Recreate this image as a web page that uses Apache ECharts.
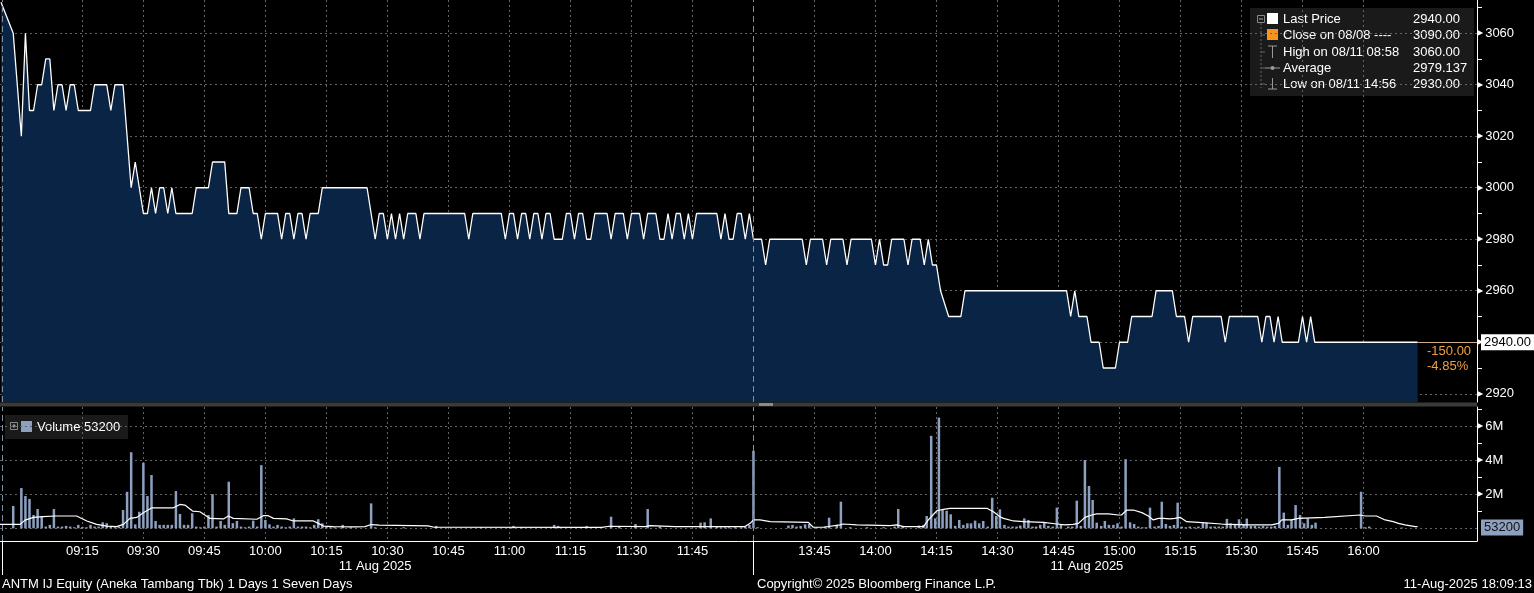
<!DOCTYPE html>
<html><head><meta charset="utf-8">
<script src="https://cdn.jsdelivr.net/npm/echarts@6/dist/echarts.min.js"></script>
<style>html,body{margin:0;padding:0;background:#000;overflow:hidden}#c{width:1534px;height:593px}</style>
</head><body><div id="c"></div>
<script>
// Time is stored as trading minutes since 09:00 with the lunch break removed (12:00 and 13:30 are both 180).
const timeLabels = ['09:15','09:30','09:45','10:00','10:15','10:30','10:45','11:00','11:15','11:30','11:45',
                    '13:45','14:00','14:15','14:30','14:45','15:00','15:15','15:30','15:45','16:00'];
const dateLabels = ['11 Aug 2025', '11 Aug 2025'];
const dateLabelAt = [87, 262];
const sessionBreaks = [-4.8, 180];
const priceTicks = [2920, 2940, 2960, 2980, 3000, 3020, 3040, 3060];
const priceMinorTicks = [2930, 2950, 2970, 2990, 3010, 3030, 3050, 3070];
const volTicks = [0, 2, 4, 6];          // millions
const volLabelTicks = [2, 4, 6];
const volMinorTicks = [1, 3, 5, 7];

const pricePoints = [
 [-5,3072],[-2,3060],[0,3020],[1,3060],[2,3030],[3,3030],[4,3040],[5,3040],[6,3050],[7,3050],[8,3030],
 [9,3040],[10,3040],[11,3030],[12,3040],[13,3040],[14,3030],[17,3030],[18,3040],[21,3040],[22,3030],
 [23,3040],[25,3040],[27,3000],[28,3010],[29,3000],[30,2990],[31,2990],[32,3000],[33,2990],[34,3000],
 [35,3000],[36,2990],[37,3000],[38,2990],[42,2990],[43,3000],[46,3000],[47,3010],[50,3010],[51,2990],
 [53,2990],[54,3000],[56,3000],[57,2990],[58,2990],[59,2980],[60,2990],[63,2990],[64,2980],[65,2990],
 [66,2990],[67,2980],[68,2990],[69,2990],[70,2980],[71,2990],[73,2990],[74,3000],[85,3000],[87,2980],
 [88,2990],[89,2990],[90,2980],[91,2990],[92,2980],[93,2990],[94,2980],[95,2990],[97,2990],[98,2980],
 [99,2990],[109,2990],[110,2980],[111,2990],[118,2990],[119,2980],[120,2990],[121,2990],[122,2980],
 [123,2990],[124,2990],[125,2980],[126,2990],[127,2990],[128,2980],[129,2990],[130,2990],[131,2980],
 [133,2980],[134,2990],[135,2990],[136,2980],[137,2990],[138,2990],[139,2980],[140,2980],[141,2990],
 [144,2990],[145,2980],[146,2990],[148,2990],[149,2980],[150,2990],[152,2990],[153,2980],[154,2990],
 [156,2990],[157,2980],[158,2980],[159,2990],[160,2980],[161,2990],[162,2990],[163,2980],[164,2990],
 [165,2980],[166,2990],[171,2990],[172,2980],[173,2990],[174,2980],[175,2980],[176,2990],[177,2990],
 [178,2980],[179,2990],[180,2980],
 [182,2980],[183,2970],[184,2980],[192,2980],[193,2970],[194,2980],[197,2980],[198,2970],[199,2980],
 [202,2980],[203,2970],[204,2980],[209,2980],[210,2970],[211,2980],[212,2970],[213,2970],[214,2980],
 [217,2980],[218,2970],[219,2980],[221,2980],[222,2970],[223,2980],[224,2970],[225,2970],[226,2960],
 [228,2950],[231,2950],[232,2960],[257,2960],[258,2950],[259,2960],[260,2950],[262,2950],[263,2940],
 [265,2940],[266,2930],[269,2930],[270,2940],[272,2940],[273,2950],[278,2950],[279,2960],[283,2960],
 [284,2950],[286,2950],[287,2940],[288,2950],[295,2950],[296,2940],[297,2950],[304,2950],[305,2940],
 [306,2950],[307,2950],[308,2940],[309,2950],[310,2940],[314,2940],[315,2950],[316,2940],[317,2950],
 [318,2940],[343.3,2940]
];

// volume per minute, millions of shares
const volumeBars = [
 [-2,1.31],[0,2.36],[1,1.89],[2,1.72],[3,0.78],[4,1.13],[5,0.72],[6,0.1],[7,0.2],[8,1.13],[9,0.1],[10,0.1],
 [11,0.14],[12,0.1],[13,0.06],[14,0.2],[15,0.08],[16,0.06],[17,0.2],[18,0.1],[19,0.1],[20,0.35],[21,0.3],
 [22,0.1],[23,0.06],[24,0.1],[25,1.07],[26,2.14],[27,4.46],[28,0.23],[29,0.97],[30,3.84],[31,1.89],[32,3.12],
 [33,0.43],[34,0.2],[35,0.2],[36,0.2],[37,0.2],[38,2.18],[39,0.84],[40,0.2],[41,0.2],[42,0.88],[43,0.1],
 [44,0.06],[45,0.1],[46,0.78],[47,2.0],[48,0.1],[49,0.43],[50,0.2],[51,2.73],[52,0.3],[53,0.43],[54,0.1],
 [55,0.06],[56,0.1],[57,0.45],[58,0.1],[59,3.7],[60,0.49],[61,0.23],[62,0.1],[63,0.2],[64,0.1],[65,0.06],
 [66,0.1],[67,0.58],[68,0.1],[69,0.1],[70,0.1],[71,0.06],[72,0.2],[73,0.53],[74,0.29],[75,0.1],[76,0.06],
 [77,0.06],[79,0.2],[81,0.06],[86,1.46],[87,0.06],[94,0.06],[102,0.14],[113,0.06],[121,0.14],[123,0.06],
 [131,0.2],[132,0.14],[139,0.14],[145,0.68],[147,0.14],[151,0.25],[154,1.13],[157,0.1],[167,0.33],
 [168,0.35],[169.5,0.58],[171,0.1],[172,0.06],[173,0.06],[174,0.06],[175.5,0.06],[177,0.06],[178,0.1],
 [179,0.2],[180,4.54],[181,0.06],
 [188.6,0.16],[189.6,0.2],[190.6,0.1],[191.6,0.14],[192.7,0.23],[193.7,0.25],[195.6,0.06],[197.6,0.1],
 [198.6,0.62],[200.5,0.2],[201.5,1.56],[203.8,0.06],[207.9,0.06],[212,0.06],[214.7,0.1],[215.6,1.13],
 [216.7,0.14],[220.7,0.16],[221.8,0.2],[222.6,0.72],[223.7,5.42],[224.7,0.58],[225.6,6.49],[226.5,1.07],
 [227.5,1.03],[228.5,0.82],[229.6,0.14],[230.6,0.49],[231.6,0.2],[232.6,0.29],[233.5,0.29],[234.5,0.45],
 [235.5,0.29],[236.5,0.43],[237.6,0.1],[238.7,1.79],[239.7,0.72],[240.6,1.11],[241.7,0.2],[242.7,0.1],
 [243.7,0.1],[244.7,0.1],[245.6,0.16],[246.6,0.58],[247.6,0.49],[248.6,0.1],[249.5,0.1],[250.5,0.2],
 [251.5,0.33],[252.5,0.14],[253.6,0.1],[254.6,1.21],[255.6,0.2],[257.4,0.1],[258.4,0.1],[259.5,1.62],
 [260.5,0.14],[261.5,4.0],[262.5,2.48],[263.4,1.66],[264.4,0.33],[265.5,0.14],[266.4,0.43],[267.4,0.2],
 [268.5,0.2],[269.5,0.29],[270.5,0.1],[271.5,4.05],[272.6,0.35],[273.6,0.25],[274.6,0.1],[275.6,0.06],
 [276.5,0.06],[277.5,1.21],[278.6,0.1],[279.6,0.14],[280.4,1.56],[281.4,0.25],[282.4,0.14],[283.4,0.2],
 [284.3,1.5],[285.3,0.1],[286.3,0.06],[287.3,0.1],[288.4,0.06],[289.4,0.1],[290.5,0.33],[291.4,0.33],
 [292.4,0.1],[293.4,0.1],[294.4,0.1],[295.4,0.1],[296.4,0.55],[297.3,0.29],[298.4,0.23],[299.4,0.53],
 [300.5,0.23],[301.3,0.57],[302.3,0.14],[303.3,0.14],[304.3,0.1],[305.3,0.14],[306.3,0.1],[307.3,0.1],
 [308.2,0.14],[309.3,3.6],[310.4,0.92],[311.4,0.2],[312.3,0.49],[313.3,1.36],[314.4,0.78],[315.4,0.29],
 [316.3,0.58],[317.3,0.2],[318.2,0.33],[329.4,2.14],[330.4,0.06],[331.4,0.1],[339.4,0.04]
];

const volumeAvg = [
 [-5.25,0.23],[-0.3,0.23],[0.9,0.48],[3,0.64],[5.4,0.68],[8.3,0.72],[13.6,0.72],[16.1,0.43],[18.5,0.23],
 [21,0.13],[23.4,0.1],[25.1,0.23],[26.7,0.58],[28.4,0.64],[30,0.91],[32.1,1.2],[37.4,1.2],[39,1.4],
 [40.2,1.36],[42.1,1.01],[43.9,0.97],[46.4,0.58],[49.7,0.55],[50.9,0.72],[52.1,0.58],[57.9,0.53],
 [59.5,0.74],[60.7,0.74],[62,0.58],[65.2,0.55],[66.9,0.43],[71.8,0.43],[73,0.29],[74.3,0.13],[76.7,0.1],
 [82,0.08],[84.5,0.1],[86,0.22],[88,0.18],[100,0.14],[101.5,0.06],[142.7,0.05],[144.5,0.12],[153.4,0.1],
 [154.5,0.16],[160.7,0.1],[169.3,0.1],[177.9,0.1],[179.2,0.29],[180,0.49],[181.6,0.49],[184.1,0.39],
 [193.5,0.35],[194.7,0.06],[197.2,0.06],[201.3,0.2],[202.1,0.25],[205.4,0.2],[213.6,0.16],[215.2,0.2],
 [216.9,0.1],[221.8,0.1],[223,0.49],[225.1,1.03],[226.7,1.11],[228.3,1.17],[237.4,1.17],[239,0.97],
 [240.6,0.68],[241.5,0.58],[243.9,0.43],[246.4,0.39],[251.3,0.35],[254.6,0.25],[256.6,0.2],[258.6,0.23],
 [259.9,0.29],[261.5,0.64],[263.2,0.78],[264.4,0.84],[267.3,0.84],[269.7,0.78],[270.5,0.78],[271.8,1.07],
 [273.4,1.07],[275.5,0.92],[277.1,0.72],[278.3,0.49],[279.6,0.58],[280.8,0.58],[282.4,0.55],[283.6,0.58],
 [284.9,0.64],[286.5,0.39],[289.4,0.35],[295.1,0.25],[301.7,0.2],[307.4,0.2],[309.1,0.29],[309.9,0.49],
 [312.3,0.49],[314,0.58],[320.5,0.64],[329.1,0.78],[330.4,0.72],[333.2,0.72],[335.3,0.49],[337.3,0.39],
 [338.6,0.29],[340.2,0.2],[342.7,0.1],[343.3,0.1]
];

const lastTime = 343.3;
const lastPrice = 2940;
const lastVolume = 53200;
const legendNames = ['Last Price', 'Close on 08/08 ----', 'High on 08/11 08:58', 'Average', 'Low on 08/11 14:56'];
const legendValues = ['2940.00', '3090.00', '3060.00', '2979.137', '2930.00'];
const changeTexts = ['-150.00', '-4.85%'];
const volumeLegend = 'Volume 53200';
const footerTexts = ['ANTM IJ Equity (Aneka Tambang Tbk) 1 Days 1 Seven Days',
                     'Copyright\u00A9 2025 Bloomberg Finance L.P.', '11-Aug-2025 18:09:13'];

function toM(s){const p=s.split(':').map(Number);const t=p[0]*60+p[1];return t<=720?t-540:t-810+180;}
function fromM(m){const t=Math.round(m<=180?540+m:810+(m-180));const h=Math.floor(t/60),mm=t%60;return String(h).padStart(2,'0')+':'+String(mm).padStart(2,'0');}
const tickM = timeLabels.map(toM);

const X_MIN = -5.25, X_MAX = 357.9;
const FONT = '"Liberation Sans", Arial, sans-serif';
const gridDot = {color:'#646464', type:[2,3], width:1};
const breakStyle = {color:'#7f8fa8', type:[6,4], width:1};
const tri = {t:{fontSize:8, color:'#fff', padding:[0,2,0,0], fontFamily:'DejaVu Sans'}};

const chart = echarts.init(document.getElementById('c'), null, {renderer:'canvas'});

const legendRowsY = [19, 35, 52, 68, 84];
const graphics = [
  {type:'rect', shape:{x:0,y:402.5,width:1477,height:4}, style:{fill:'#3a3a3a'}},
  {type:'rect', shape:{x:759,y:403,width:14,height:3}, style:{fill:'#8a8a8a'}},
  {type:'rect', shape:{x:1250,y:8,width:224,height:88}, style:{fill:'#1a1a1a'}},
  {type:'rect', shape:{x:1257.5,y:15.5,width:7,height:7}, style:{fill:'none',stroke:'#888',lineWidth:1}},
  {type:'line', shape:{x1:1259,y1:19,x2:1263,y2:19}, style:{stroke:'#aaa',lineWidth:1}},
  {type:'line', shape:{x1:1261,y1:23,x2:1261,y2:88}, style:{stroke:'#666',lineWidth:1,lineDash:[2,2]}},
  {type:'rect', shape:{x:1267,y:13,width:11,height:11}, style:{fill:'#ffffff'}},
  {type:'rect', shape:{x:1267,y:29,width:11,height:11}, style:{fill:'#f7941d'}},
  {type:'line', shape:{x1:1268,y1:46,x2:1277,y2:46}, style:{stroke:'#999',lineWidth:1}},
  {type:'line', shape:{x1:1272.5,y1:46,x2:1272.5,y2:58}, style:{stroke:'#999',lineWidth:1}},
  {type:'line', shape:{x1:1265,y1:68,x2:1280,y2:68}, style:{stroke:'#999',lineWidth:1}},
  {type:'circle', shape:{cx:1272.5,cy:68,r:2}, style:{fill:'#999'}},
  {type:'line', shape:{x1:1272.5,y1:78,x2:1272.5,y2:89}, style:{stroke:'#999',lineWidth:1}},
  {type:'line', shape:{x1:1268,y1:89,x2:1277,y2:89}, style:{stroke:'#999',lineWidth:1}},
  {type:'rect', shape:{x:5,y:415,width:123,height:24}, style:{fill:'#1a1a1a'}},
  {type:'rect', shape:{x:10.5,y:422.5,width:7,height:7}, style:{fill:'none',stroke:'#888',lineWidth:1}},
  {type:'line', shape:{x1:12,y1:426,x2:16,y2:426}, style:{stroke:'#aaa',lineWidth:1}},
  {type:'line', shape:{x1:14,y1:424,x2:14,y2:428}, style:{stroke:'#aaa',lineWidth:1}},
  {type:'rect', shape:{x:21,y:421,width:11,height:11}, style:{fill:'#8da0c0'}},
  {type:'text', style:{text:volumeLegend, x:37, y:427, fill:'#fff', font:'13px '+FONT, textVerticalAlign:'middle'}},
  {type:'text', style:{text:changeTexts[0], x:1427, y:351.5, fill:'#f0a040', font:'13px '+FONT, textVerticalAlign:'middle'}},
  {type:'text', style:{text:changeTexts[1], x:1427, y:366.5, fill:'#f0a040', font:'13px '+FONT, textVerticalAlign:'middle'}},
  {type:'text', style:{text:footerTexts[0], x:2, y:584, fill:'#fff', font:'13px '+FONT, textVerticalAlign:'middle'}},
  {type:'text', style:{text:footerTexts[1], x:757, y:584, fill:'#fff', font:'13px '+FONT, textVerticalAlign:'middle'}},
  {type:'text', style:{text:footerTexts[2], x:1532, y:584, fill:'#fff', font:'13px '+FONT, textVerticalAlign:'middle', textAlign:'right'}}
];
legendNames.forEach((n,i)=>{
  graphics.push({type:'text', style:{text:n, x:1283, y:legendRowsY[i], fill:'#fff', font:'13px '+FONT, textVerticalAlign:'middle'}});
  graphics.push({type:'text', style:{text:legendValues[i], x:1413, y:legendRowsY[i], fill:'#fff', font:'13px '+FONT, textVerticalAlign:'middle'}});
  if (i>0) graphics.push({type:'line', shape:{x1:1261,y1:legendRowsY[i],x2:1265,y2:legendRowsY[i]}, style:{stroke:'#666',lineWidth:1}});
});

const option = {
  backgroundColor:'#000',
  animation:false,
  textStyle:{fontFamily:FONT},
  grid:[{left:0,top:0,width:1477,height:402},{left:0,top:407,width:1477,height:134}],
  xAxis:[
    {gridIndex:0,type:'value',min:X_MIN,max:X_MAX,axisLine:{show:false,onZero:false},axisLabel:{show:false},
     axisTick:{show:false,customValues:tickM},splitLine:{show:true,lineStyle:gridDot}},
    {gridIndex:1,type:'value',min:X_MIN,max:X_MAX,axisLine:{show:true,onZero:false,lineStyle:{color:'#fff',width:1}},
     axisTick:{show:false,customValues:tickM},
     axisLabel:{customValues:tickM,formatter:v=>fromM(v),color:'#fff',fontSize:13,fontFamily:FONT,margin:4},
     splitLine:{show:true,lineStyle:gridDot}},
    {gridIndex:1,type:'value',min:X_MIN,max:X_MAX,position:'bottom',axisLine:{show:false,onZero:false},
     axisTick:{show:true,customValues:sessionBreaks,length:34,lineStyle:{color:'#fff',width:1}},
     axisLabel:{customValues:dateLabelAt,formatter:(v)=>dateLabels[dateLabelAt.indexOf(v)]||dateLabels[0],color:'#fff',fontSize:13,fontFamily:FONT,margin:19},
     splitLine:{show:false}}
  ],
  yAxis:[
    {gridIndex:0,type:'value',position:'right',min:2916.8,max:3072.9,
     axisLine:{show:true,onZero:false,lineStyle:{color:'#fff',width:1}},
     axisTick:{show:false,customValues:priceTicks},
     axisLabel:{customValues:priceTicks,formatter:v=>'{t|\u25B6}'+v,margin:0,color:'#fff',fontSize:13,fontFamily:FONT,rich:tri},
     splitLine:{show:true,lineStyle:gridDot}},
    {gridIndex:0,type:'value',position:'right',offset:0,min:2916.8,max:3072.9,axisLine:{show:false,onZero:false},
     axisTick:{show:true,customValues:priceMinorTicks,length:5,lineStyle:{color:'#fff'}},
     axisLabel:{show:false},splitLine:{show:false}},
    {gridIndex:1,type:'value',position:'right',min:-0.745,max:7.11,
     axisLine:{show:true,onZero:false,lineStyle:{color:'#fff',width:1}},
     axisTick:{show:false,customValues:volTicks},
     axisLabel:{customValues:volLabelTicks,formatter:v=>'{t|\u25B6}'+v+'M',margin:0,color:'#fff',fontSize:13,fontFamily:FONT,rich:tri},
     splitLine:{show:true,lineStyle:gridDot}},
    {gridIndex:1,type:'value',position:'right',offset:0,min:-0.745,max:7.11,axisLine:{show:false,onZero:false},
     axisTick:{show:true,customValues:volMinorTicks,length:5,lineStyle:{color:'#fff'}},
     axisLabel:{show:false},splitLine:{show:false}}
  ],
  series:[
    {type:'line',xAxisIndex:0,yAxisIndex:0,data:pricePoints,symbol:'none',z:3,
     lineStyle:{color:'#ffffff',width:1.3},areaStyle:{color:'#0a2446',opacity:1,origin:'start'},
     markLine:{silent:true,symbol:['none','none'],animation:false,
       data:[
         {xAxis:sessionBreaks[0],lineStyle:breakStyle,label:{show:false}},
         {xAxis:sessionBreaks[1],lineStyle:breakStyle,label:{show:false}},
         [{coord:[lastTime,lastPrice],lineStyle:{color:'#d2ae86',width:1,type:'solid'},
           label:{show:true,position:'end',formatter:'2940.00',color:'#000',backgroundColor:'#fff',
                  padding:[2,3,1,3],fontSize:13,fontFamily:FONT,distance:4}},
          {coord:[X_MAX,lastPrice]}]
       ]}},
    {type:'bar',xAxisIndex:1,yAxisIndex:2,data:volumeBars,barWidth:2.5,z:2,
     itemStyle:{color:'#8da0c0'},
     markLine:{silent:true,symbol:['none','none'],animation:false,
       data:[
         {xAxis:sessionBreaks[0],lineStyle:breakStyle,label:{show:false}},
         {xAxis:sessionBreaks[1],lineStyle:breakStyle,label:{show:false}},
         [{coord:[lastTime,lastVolume/1e6],lineStyle:{color:'rgba(0,0,0,0)',width:1,type:'solid'},
           label:{show:true,position:'end',formatter:String(lastVolume),color:'#111',backgroundColor:'#8da0c0',
                  padding:[2,3,1,3],fontSize:13,fontFamily:FONT,distance:4}},
          {coord:[X_MAX,lastVolume/1e6]}]
       ]}},
    {type:'line',xAxisIndex:1,yAxisIndex:2,data:volumeAvg,symbol:'none',z:4,
     lineStyle:{color:'#ffffff',width:1.2}}
  ],
  graphic:graphics
};
chart.setOption(option);
</script></body></html>
